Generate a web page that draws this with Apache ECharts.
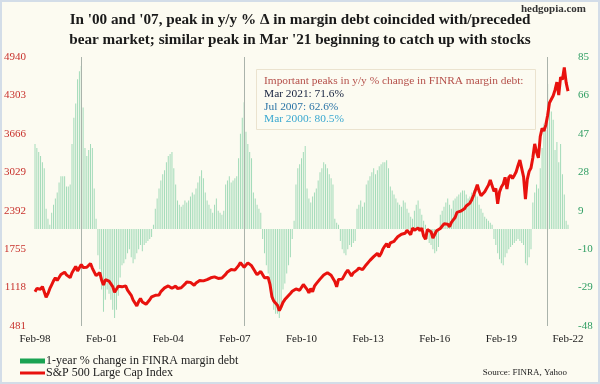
<!DOCTYPE html>
<html>
<head>
<meta charset="utf-8">
<script src="https://cdn.jsdelivr.net/npm/echarts@6/dist/echarts.min.js"></script>
<style>
html,body{margin:0;padding:0;background:#fcfbf1;}
#wrap{position:relative;width:600px;height:384px;}
#chart{width:600px;height:384px;}
#frame{position:absolute;left:0;top:0;width:600px;height:384px;box-sizing:border-box;border:2px solid #d3dde8;pointer-events:none;}
</style>
</head>
<body>
<div id="wrap"><div id="chart"></div><div id="frame"></div></div>
<script>
// Monthly, Feb-1998 .. Feb-2022
const startYear = 1998, startMonth = 1; // Feb (0-based)
const monthNames = ['Jan','Feb','Mar','Apr','May','Jun','Jul','Aug','Sep','Oct','Nov','Dec'];

const sp500 = [
  1049,1102,1112,1091,1134,1121,957,1017,1099,1164,1229,
  1280,1238,1286,1335,1302,1373,1329,1320,1283,1363,1389,1469,
  1394,1366,1499,1452,1421,1455,1431,1518,1437,1429,1315,1320,
  1366,1240,1160,1249,1256,1224,1211,1134,1041,1060,1139,1148,
  1130,1107,1147,1076,1067,990,912,916,815,886,936,880,
  856,841,848,917,964,975,990,1008,996,1051,1058,1112,
  1131,1145,1126,1107,1121,1141,1102,1104,1115,1130,1174,1212,
  1181,1204,1181,1157,1192,1191,1234,1220,1229,1207,1249,1248,
  1280,1281,1295,1311,1270,1270,1277,1304,1336,1378,1401,1418,
  1438,1407,1421,1482,1531,1503,1455,1474,1527,1549,1481,1468,
  1379,1331,1323,1386,1400,1280,1267,1283,1166,969,896,903,
  826,735,798,873,919,919,987,1021,1057,1036,1096,1115,
  1074,1104,1169,1187,1089,1031,1102,1049,1141,1183,1181,1258,
  1286,1327,1326,1364,1345,1321,1292,1219,1131,1253,1247,1258,
  1312,1366,1408,1398,1310,1362,1379,1407,1441,1412,1416,1426,
  1498,1515,1569,1598,1631,1606,1686,1633,1682,1757,1806,1848,
  1783,1859,1872,1884,1924,1960,1931,2003,1972,2018,2068,2059,
  1995,2105,2068,2086,2107,2063,2104,1972,1920,2079,2080,2044,
  1940,1932,2060,2065,2097,2099,2174,2171,2168,2126,2199,2239,
  2279,2364,2363,2384,2412,2423,2470,2472,2519,2575,2648,2674,
  2824,2714,2641,2648,2705,2718,2816,2902,2914,2712,2760,2507,
  2704,2784,2834,2946,2752,2942,2980,2926,2977,3038,3141,3231,
  3226,2954,2585,2912,3044,3100,3271,3500,3363,3270,3622,3756,
  3714,3811,3973,4181,4204,4298,4395,4523,4308,4605,4567,4766,
  4516,4374
];

const marginYoY = [
  42,40,38,36,33,30,10,5,2,8,12,
  15,18,23,26,26,26,21,21,22,42,55,62,
  74,78,80.5,60,40,36,39,42,40,20,5,-13,
  -20,-30,-41,-35,-30,-32,-35,-40,-44,-40,-33,-24,
  -18,-17,-15,-12,-10,-14,-17,-15,-12,-10,-8,-11,
  -8,-7,-6,-5,-4,2,10,15,20,24,27,29,
  33,36,37,38,30,22,14,12,11,12,14,13,
  14,16,18,17,20,23,26,29,25,18,14,12,
  10,8,12,15,9,8,7,9,22,24,26,23,
  24,25,26,35,47,55,62.6,48,42,38,35,18,
  15,12,10,8,-5,-12,-18,-22,-28,-35,-40,-42,
  -42,-44,-40,-30,-27,-22,-18,-14,-5,4,22,30,
  32,35,38,41,20,15,13,16,18,20,24,28,
  30,33,32,30,27,25,22,5,3,2,-6,-10,
  -12,-13,-10,-8,-9,-7,-6,10,12,14,11,13,
  22,24,26,28,30,27,29,31,32,33,33,34,
  30,21,19,17,15,13,12,11,14,13,10,8,
  6,5,9,12,14,10,7,4,2,-5,-7,-8,
  -10,-12,-11,-9,7,9,11,13,15,12,10,14,
  15,16,17,18,19,19,17,15,16,18,19,17,
  16,12,10,8,6,5,4,3,2,-5,-8,-12,
  -15,-17,-18,-14,-12,-10,-9,-8,-7,-6,-5,-6,
  -7,-8,-17,-18,-14,-10,13,18,22,20,30,40,
  52,49,71.6,61,58,54,39,43,33,42,27,17,
  4,2
];

const leftTicks = [481,1118,1755,2392,3029,3666,4303,4940];
const rightTicks = [-48,-29,-10,9,28,47,66,85];
const peakMonths = ['Mar-00','Jul-07','Mar-21'];

const categories = [];
for (let i = 0; i < sp500.length; i++) {
  const m = (startMonth + i) % 12;
  const y = startYear + Math.floor((startMonth + i) / 12);
  categories.push(monthNames[m] + '-' + String(y).slice(2));
}

const barName = '1-year % change in FINRA margin debt';
const lineName = 'S&P 500 Large Cap Index';
const serif = '"Liberation Serif","DejaVu Serif",serif';
const richBase = { fontSize: 11.4, fontFamily: serif, fontWeight: 'normal', lineHeight: 12.7 };

const chart = echarts.init(document.getElementById('chart'));
chart.setOption({
  backgroundColor: '#fcfbf1',
  animation: false,
  textStyle: { fontFamily: serif },
  title: [
    {
      text: "In '00 and '07, peak in y/y % \u0394 in margin debt coincided with/preceded\nbear market; similar peak in Mar '21 beginning to catch up with stocks",
      left: 'center', top: 5,
      textStyle: { fontFamily: serif, fontWeight: 'bold', fontSize: 15.2, lineHeight: 20, color: '#1a1a1a' }
    },
    {
      text: 'hedgopia.com', right: 9, top: -1,
      textStyle: { fontFamily: serif, fontWeight: 'bold', fontSize: 11, color: '#333' }
    },
    {
      text: '{a|Important peaks in y/y % change in FINRA margin debt:}\n{b|Mar 2021: 71.6%}\n{c|Jul 2007: 62.6%}\n{d|Mar 2000: 80.5%}',
      left: 256, top: 69,
      padding: [6, 12, 4, 8],
      borderColor: '#ebe3cf', borderWidth: 1,
      backgroundColor: '#fcfbf1',
      textStyle: {
        fontFamily: serif, fontSize: 11.4, fontWeight: 'normal', lineHeight: 12.7,
        rich: {
          a: Object.assign({ color: '#b5504a' }, richBase),
          b: Object.assign({ color: '#16223f' }, richBase),
          c: Object.assign({ color: '#2b74a6' }, richBase),
          d: Object.assign({ color: '#3aa8d0' }, richBase)
        }
      }
    },
    {
      text: 'Source: FINRA, Yahoo', right: 28, top: 363,
      textStyle: { fontFamily: serif, fontWeight: 'normal', fontSize: 9, color: '#222' }
    }
  ],
  legend: [
    {
      left: 15, top: 350, itemWidth: 25, itemHeight: 5, itemGap: 0,
      textStyle: { fontFamily: serif, fontSize: 12, color: '#222', padding: [0,0,0,-4] },
      data: [ { name: barName, icon: 'rect', itemStyle: { color: '#1aa352' } } ]
    },
    {
      left: 15, top: 362, itemWidth: 25, itemHeight: 3, itemGap: 0,
      textStyle: { fontFamily: serif, fontSize: 12, color: '#222', padding: [0,0,0,-4] },
      data: [ { name: lineName, icon: 'rect', itemStyle: { color: '#e8120e' } } ]
    }
  ],
  grid: { left: 35, right: 32, top: 57, bottom: 58 },
  xAxis: {
    type: 'category', data: categories, boundaryGap: false,
    axisLine: { show: false }, axisTick: { show: false }, splitLine: { show: false },
    axisLabel: { interval: 35, color: '#222', fontSize: 11, fontFamily: serif, margin: 8 }
  },
  yAxis: [
    {
      type: 'value', min: 481, max: 4940, position: 'left',
      axisLine: { show: false }, axisTick: { show: false }, splitLine: { show: false },
      axisLabel: { customValues: leftTicks, formatter: v => String(v), color: '#c8312c', fontSize: 11, fontFamily: serif, margin: 9 }
    },
    {
      type: 'value', min: -48, max: 85, position: 'right',
      axisLine: { show: false }, axisTick: { show: false }, splitLine: { show: false },
      axisLabel: { customValues: rightTicks, formatter: v => String(v), color: '#2f9e63', fontSize: 11, fontFamily: serif, margin: 10 }
    }
  ],
  series: [
    {
      name: barName, type: 'bar', yAxisIndex: 1, data: marginYoY,
      barWidth: 1, itemStyle: { color: '#a3dbb9' },
      markLine: {
        silent: true, symbol: 'none', label: { show: false },
        lineStyle: { color: '#aab3ab', width: 1, type: 'solid' },
        data: peakMonths.map(m => ({ xAxis: m }))
      }
    },
    {
      name: lineName, type: 'line', yAxisIndex: 0, data: sp500,
      showSymbol: false, symbol: 'none', z: 5,
      lineStyle: { color: '#e8120e', width: 3 }, itemStyle: { color: '#e8120e' }
    }
  ]
});
</script>
</body>
</html>
